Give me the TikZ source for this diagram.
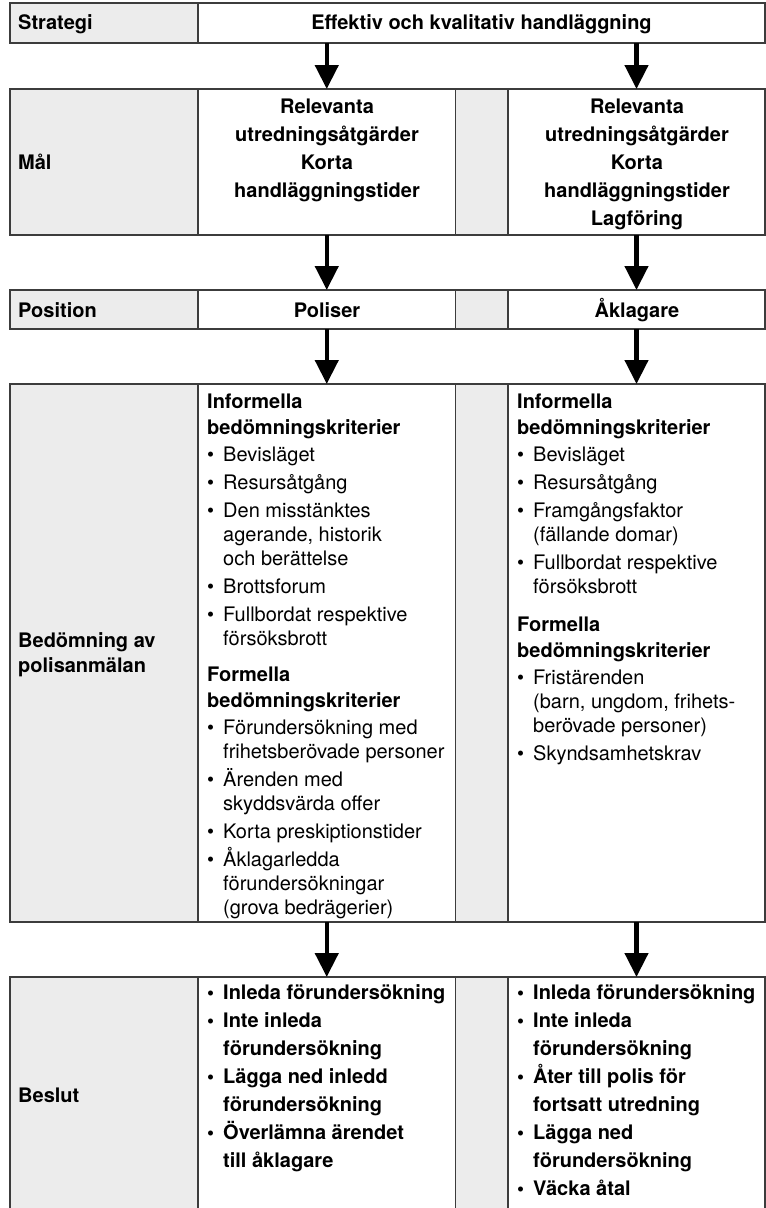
\documentclass[tikz,border=0pt]{standalone}
\usepackage{fontspec}
\setmainfont{TeX Gyre Heros}
\usetikzlibrary{arrows.meta}

\definecolor{rahmen}{HTML}{3C3C3C}
\definecolor{grau}{HTML}{ECECEC}

\newcommand{\pkt}{\makebox[16pt][l]{\textbullet}}
\newcommand{\ind}{\hspace*{16pt}}

\begin{document}
\begin{tikzpicture}[x=1pt,y=-1pt,
	cell/.style={draw=rahmen,line width=1.2pt,anchor=north west,outer sep=0pt,fill=white},
	graycell/.style={cell,fill=grau},
	rowlabel/.style={anchor=base west,align=left,font=\fontsize{20}{25}\selectfont\bfseries},
	mitte/.style={anchor=base,align=center,font=\fontsize{20}{28}\selectfont\bfseries},
	liste/.style={anchor=base west,align=left,font=\fontsize{20}{24}\selectfont},
	fettliste/.style={anchor=base west,align=left,font=\fontsize{20}{28}\selectfont\bfseries},
	pil/.style={-{Triangle[width=23pt,length=24pt]},line width=4.5pt,black}]
				\tikzstyle{every node}+=[inner sep=0pt]
				\clip (0,0) rectangle (766,1208);
				\node [graycell,minimum width=188pt,minimum height=40pt] (strL) at (10,3) {};
				\node [cell,minimum width=567pt,minimum height=40pt] (strat) at (198,3) {};
				\node [graycell,minimum width=188pt,minimum height=146pt] (malL) at (10,89) {};
				\node [cell,minimum width=257.5pt,minimum height=146pt] (mal1) at (198,89) {};
				\node [graycell,minimum width=52.5pt,minimum height=146pt] (malS) at (455.5,89) {};
				\node [cell,minimum width=257pt,minimum height=146pt] (mal2) at (508,89) {};
				\node [graycell,minimum width=188pt,minimum height=39pt] (posL) at (10,290) {};
				\node [cell,minimum width=257.5pt,minimum height=39pt] (pos1) at (198,290) {};
				\node [graycell,minimum width=52.5pt,minimum height=39pt] (posS) at (455.5,290) {};
				\node [cell,minimum width=257pt,minimum height=39pt] (pos2) at (508,290) {};
				\node [graycell,minimum width=188pt,minimum height=538pt] (bedL) at (10,384) {};
				\node [cell,minimum width=257.5pt,minimum height=538pt] (bed1) at (198,384) {};
				\node [graycell,minimum width=52.5pt,minimum height=538pt] (bedS) at (455.5,384) {};
				\node [cell,minimum width=257pt,minimum height=538pt] (bed2) at (508,384) {};
				\node [graycell,minimum width=188pt,minimum height=236pt] (besL) at (10,977) {};
				\node [cell,minimum width=257.5pt,minimum height=236pt] (bes1) at (198,977) {};
				\node [graycell,minimum width=52.5pt,minimum height=236pt] (besS) at (455.5,977) {};
				\node [cell,minimum width=257pt,minimum height=236pt] (bes2) at (508,977) {};
				\node [rowlabel] (tStr) at (18,29) {Strategi};
				\node [mitte] (tEff) at (481.5,29) {Effektiv och kvalitativ handläggning};
				\node [rowlabel] (tMal) at (18,169) {Mål};
				\node [mitte] (tMal1) at (327,197) {Relevanta\\utredningsåtgärder\\Korta\\handläggningstider};
				\node [mitte] (tMal2) at (637,225) {Relevanta\\utredningsåtgärder\\Korta\\handläggningstider\\Lagföring};
				\node [rowlabel] (tPos) at (18,317) {Position};
				\node [mitte] (tPol) at (327,317) {Poliser};
				\node [mitte] (tAkl) at (637,317) {Åklagare};
				\node [rowlabel] (tBed) at (18,672) {Bedömning av\\polisanmälan};
				\node [liste] (tBed1) at (207,914) {\textbf{Informella}\\[2pt]
					\textbf{bedömningskriterier}\\[3pt]
					\pkt Bevisläget\\[4pt]
					\pkt Resursåtgång\\[4pt]
					\pkt Den misstänktes\\
					\ind agerande, historik\\
					\ind och berättelse\\[4pt]
					\pkt Brottsforum\\[4pt]
					\pkt Fullbordat respektive\\
					\ind försöksbrott\\[12pt]
					\textbf{Formella}\\[2pt]
					\textbf{bedömningskriterier}\\[3pt]
					\pkt Förundersökning med\\
					\ind frihetsberövade personer\\[4pt]
					\pkt Ärenden med\\
					\ind skyddsvärda offer\\[4pt]
					\pkt Korta preskiptionstider\\[4pt]
					\pkt Åklagarledda\\
					\ind förundersökningar\\
					\ind (grova bedrägerier)};
				\node [liste] (tBed2) at (517,760) {\textbf{Informella}\\[2pt]
					\textbf{bedömningskriterier}\\[3pt]
					\pkt Bevisläget\\[4pt]
					\pkt Resursåtgång\\[4pt]
					\pkt Framgångsfaktor\\
					\ind (fällande domar)\\[4pt]
					\pkt Fullbordat respektive\\
					\ind försöksbrott\\[14pt]
					\textbf{Formella}\\[2pt]
					\textbf{bedömningskriterier}\\[3pt]
					\pkt Fristärenden\\
					\ind (barn, ungdom, frihets-\\
					\ind berövade personer)\\[4pt]
					\pkt Skyndsamhetskrav};
				\node [rowlabel] (tBes) at (18,1102) {Beslut};
				\node [fettliste] (tBes1) at (207,1167) {\pkt Inleda förundersökning\\
					\pkt Inte inleda\\
					\ind förundersökning\\
					\pkt Lägga ned inledd\\
					\ind förundersökning\\
					\pkt Överlämna ärendet\\
					\ind till åklagare};
				\node [fettliste] (tBes2) at (517,1195) {\pkt Inleda förundersökning\\
					\pkt Inte inleda\\
					\ind förundersökning\\
					\pkt Åter till polis för\\
					\ind fortsatt utredning\\
					\pkt Lägga ned\\
					\ind förundersökning\\
					\pkt Väcka åtal};
				\draw [pil] (strat.south -| mal1.north) -- (mal1.north);
				\draw [pil] (strat.south -| mal2.north) -- (mal2.north);
				\draw [pil] (mal1.south) -- (pos1.north);
				\draw [pil] (mal2.south) -- (pos2.north);
				\draw [pil] (pos1.south) -- (bed1.north);
				\draw [pil] (pos2.south) -- (bed2.north);
				\draw [pil] (bed1.south) -- (bes1.north);
				\draw [pil] (bed2.south) -- (bes2.north);
\end{tikzpicture}
\end{document}
